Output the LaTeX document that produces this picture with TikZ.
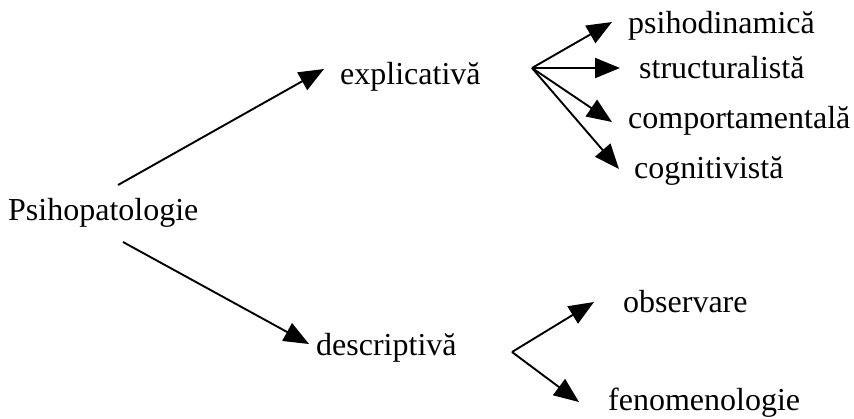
\documentclass[tikz,border=0pt]{standalone}
\usepackage{fontspec}
\setmainfont{Liberation Serif}
\usetikzlibrary{arrows.meta}
\begin{document}
\begin{tikzpicture}[x=1pt,y=-1pt,
  term/.style={inner sep=0pt,anchor=base west,font=\fontsize{32}{38}\selectfont},
  link/.style={line width=1.9pt,-{Triangle[length=25pt,width=20pt]}}]
\useasboundingbox (0,0) rectangle (854,418);

% terms
\node[term] (root) at (8,220) {Psihopatologie};
\node[term] (expl) at (340,84) {explicativă};
\node[term] (desc) at (316,355) {descriptivă};
\node[term] (psid) at (628,33) {psihodinamică};
\node[term] (stru) at (639,78) {structuralistă};
\node[term] (comp) at (628,128) {comportamentală};
\node[term] (cogn) at (634,178) {cognitivistă};
\node[term] (obse) at (623,312) {observare};
\node[term] (feno) at (608,410) {fenomenologie};

% end points of the connectors
\coordinate (rootUp) at (118,185);
\coordinate (rootDn) at (123,242);
\coordinate (explTip) at (324,69);
\coordinate (descTip) at (309,344);
\coordinate (explHub) at (532,68);
\coordinate (descHub) at (512,352);
\coordinate (psidTip) at (612,22);
\coordinate (struTip) at (620,68);
\coordinate (compTip) at (612,122);
\coordinate (cognTip) at (619,169);
\coordinate (obseTip) at (594,302);
\coordinate (fenoTip) at (579,402);

% first level
\draw[link] (rootUp) -- (explTip);
\draw[link] (rootDn) -- (descTip);

% explicative branches
\draw[link] (explHub) -- (psidTip);
\draw[link] (explHub) -- (struTip);
\draw[link] (explHub) -- (compTip);
\draw[link] (explHub) -- (cognTip);

% descriptive branches
\draw[link] (descHub) -- (obseTip);
\draw[link] (descHub) -- (fenoTip);
\end{tikzpicture}
\end{document}
